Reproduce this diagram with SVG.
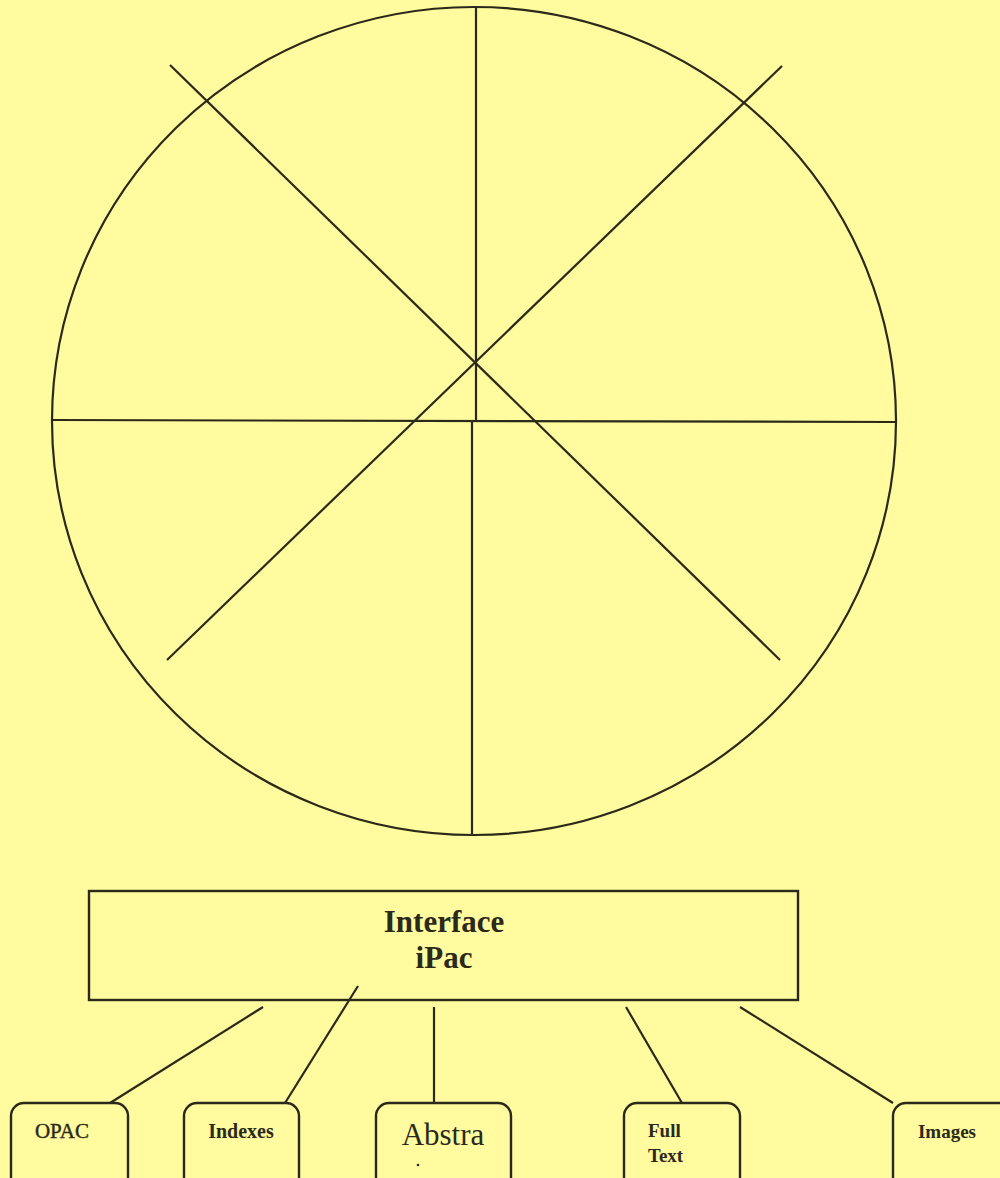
<svg xmlns="http://www.w3.org/2000/svg" width="1000" height="1178" viewBox="0 0 1000 1178">
<style>
.ln{stroke:#2b2a1a;stroke-width:2.2;fill:none}
.bx{stroke:#2b2a1a;stroke-width:2.4;fill:none}
.t{font-family:"Liberation Serif",serif;fill:#2b2a1a}
.b{font-weight:bold}
</style>
<rect width="1000" height="1178" fill="#FFFB9E"/>
<g id="wheel">
<ellipse class="ln" cx="474" cy="421" rx="422" ry="414"/>
<line class="ln" x1="476" y1="8" x2="476" y2="421"/>
<line class="ln" x1="472" y1="421" x2="472" y2="834"/>
<line class="ln" x1="53" y1="420" x2="895" y2="422"/>
<line class="ln" x1="170" y1="65" x2="780" y2="660"/>
<line class="ln" x1="782" y1="66" x2="167" y2="660"/>
</g>
<g id="interface">
<rect class="bx" x="89" y="891" width="709" height="109"/>
<text class="t b" x="444" y="932" font-size="31" text-anchor="middle">Interface</text>
<text class="t b" x="444" y="968" font-size="31" text-anchor="middle">iPac</text>
</g>
<g id="connectors">
<line class="ln" x1="263" y1="1007" x2="110" y2="1103"/>
<line class="ln" x1="358" y1="986" x2="285" y2="1103"/>
<line class="ln" x1="434" y1="1007" x2="434" y2="1103"/>
<line class="ln" x1="626" y1="1007" x2="682" y2="1103"/>
<line class="ln" x1="740" y1="1007" x2="893" y2="1103"/>
</g>
<g id="opac">
<rect class="bx" x="11" y="1103" width="117" height="95" rx="13"/>
<text class="t" x="62" y="1138" font-size="21" text-anchor="middle" stroke="#2b2a1a" stroke-width="0.4">OPAC</text>
</g>
<g id="indexes">
<rect class="bx" x="184" y="1103" width="115" height="95" rx="13"/>
<text class="t b" x="241" y="1138" font-size="20" text-anchor="middle">Indexes</text>
</g>
<g id="abstra">
<rect class="bx" x="376" y="1103" width="135" height="95" rx="13"/>
<text class="t" x="443" y="1145" font-size="31" text-anchor="middle">Abstra</text>
<circle cx="418" cy="1165" r="1.3" fill="#2b2a1a"/>
</g>
<g id="fulltext">
<rect class="bx" x="624" y="1103" width="116" height="95" rx="13"/>
<text class="t b" x="648" y="1137" font-size="19">Full</text>
<text class="t b" x="648" y="1162" font-size="19">Text</text>
</g>
<g id="images">
<rect class="bx" x="893" y="1103" width="120" height="95" rx="13"/>
<text class="t b" x="947" y="1138" font-size="19" text-anchor="middle">Images</text>
</g>
</svg>
